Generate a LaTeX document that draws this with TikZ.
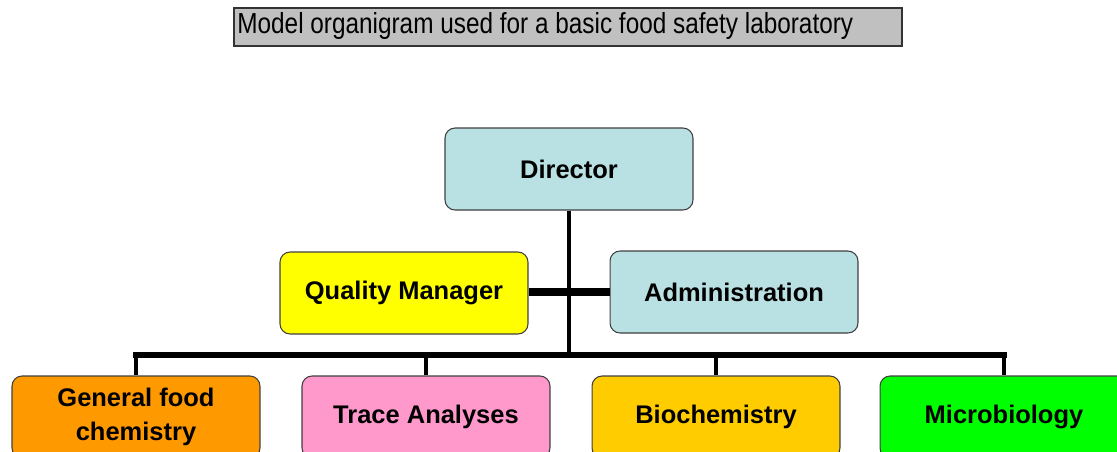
\documentclass[tikz,border=0pt]{standalone}
\usepackage{fontspec}
\setmainfont{Liberation Sans}
\newfontfamily\titlefont[FakeStretch=0.84]{Liberation Sans}
\usepackage{xcolor}
\definecolor{labcyan}{HTML}{B9E0E3}
\definecolor{labyellow}{HTML}{FFFF00}
\definecolor{laborange}{HTML}{FF9900}
\definecolor{labpink}{HTML}{FF99CC}
\definecolor{labgold}{HTML}{FFCC00}
\definecolor{labgreen}{HTML}{00FF00}
\definecolor{labgray}{HTML}{C0C0C0}
\usetikzlibrary{positioning}

\begin{document}
\begin{tikzpicture}[x=0.02cm,y=-0.02cm,
  unit/.style={draw=black!75, line width=0.6pt, rounded corners=0.2cm,
    minimum width=4.96cm, minimum height=1.64cm, align=center,
    font=\fontsize{14.5}{19}\selectfont\bfseries},
  link/.style={line width=2.3pt},
  bus/.style={line width=3.2pt}]

\useasboundingbox (0,0) rectangle (1117,451);
\clip (0,0) rectangle (1117,451);

\node[draw=black!80, fill=labgray, line width=0.8pt, minimum width=13.36cm,
  minimum height=0.76cm, inner sep=0pt] (title) at (568,27) {};
\node[anchor=west, inner sep=0pt, font=\titlefont\fontsize{16.5}{19}\selectfont]
  (titletext) at (237,26) {Model organigram used for a basic food safety laboratory};

\node[unit, fill=labcyan] (director) at (569,169) {Director};
\node[unit, fill=labyellow] (quality) at (404,293) {Quality Manager};
\node[unit, fill=labcyan] (admin) at (734,292) {Administration};

\node[unit, fill=laborange] (chem) at (136,417) {General food\\chemistry};
\node[unit, fill=labpink] (trace) at (426,417) {Trace Analyses};
\node[unit, fill=labgold] (biochem) at (716,417) {Biochemistry};
\node[unit, fill=labgreen] (micro) at (1004,417) {Microbiology};

\coordinate (hub) at (569,355);

% connectors
\draw[link] (director.south) -- (hub);
\draw[line width=4pt] (quality.east |- admin) -- (admin.west);
\draw[bus, line cap=rect] (chem.north |- hub) -- (micro.north |- hub);
\foreach \n in {chem,trace,biochem,micro}
  \draw[link] (\n.north |- hub) -- (\n.north);

\end{tikzpicture}
\end{document}
